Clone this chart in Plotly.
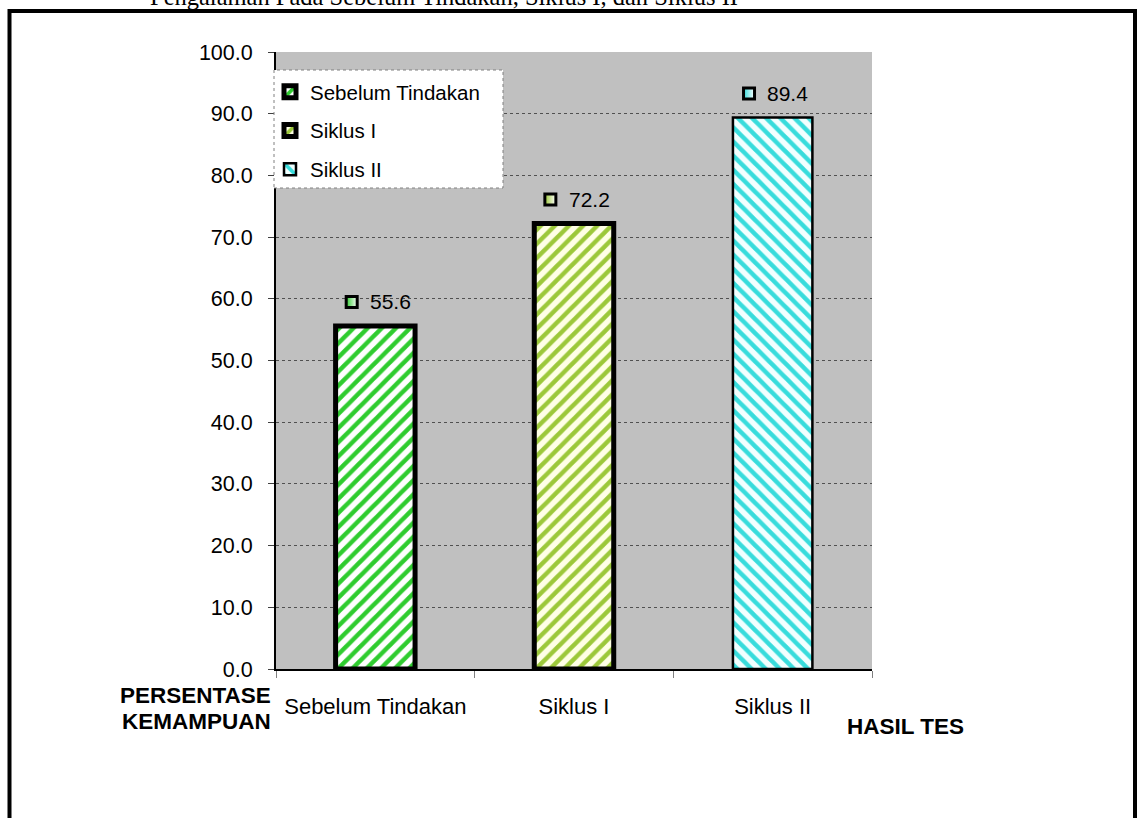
import plotly.graph_objects as go

# ---- data ----
categories = ["Sebelum Tindakan", "Siklus I", "Siklus II"]
values = [55.6, 72.2, 89.4]
series_names = ["Sebelum Tindakan", "Siklus I", "Siklus II"]
y_ticks = [0, 10, 20, 30, 40, 50, 60, 70, 80, 90, 100]
title_text = "Pengalaman Pada Sebelum Tindakan, Siklus I, dan Siklus II"
y_title_lines = ["PERSENTASE", "KEMAMPUAN"]
x_title = "HASIL TES"

# ---- styles ----
stripe_colors = ["#2FCC2F", "#9CC83A", "#38DCDC"]
stripe_bg = ["#FFFFFF", "#FFFFE6", "#F2FFFF"]
stripe_shapes = ["/", "/", "\\"]
outline_widths = [5, 5, 2.5]
FONT = "Liberation Sans, Arial, sans-serif"

L, R, T, B = 276, 265, 52, 149
W, H = 1137, 818
plot_h = H - T - B
plot_w = W - L - R

def px_to_paper_y(p):
    return (H - B - p) / plot_h

def px_to_paper_x(p):
    return (p - L) / plot_w

positions = list(range(len(categories)))

fig = go.Figure()

for i, (name, v) in enumerate(zip(series_names, values)):
    fig.add_trace(go.Bar(
        x=[positions[i]], y=[v], width=0.4, name=name,
        legendgroup=name,
        marker=dict(
            color=stripe_colors[i],
            line=dict(color="black", width=outline_widths[i]),
            pattern=dict(shape=stripe_shapes[i], fgcolor=stripe_colors[i],
                         bgcolor=stripe_bg[i], size=10, solidity=0.45,
                         fillmode="replace"),
        ),
        hoverinfo="skip",
    ))

# data label keys (small squares) and value texts
units_per_px = 100 / plot_h
for i, v in enumerate(values):
    fig.add_trace(go.Scatter(
        x=[positions[i] - 0.119], y=[v + 24 * units_per_px], mode="markers",
        marker=dict(symbol="square", size=11, color=stripe_colors[i],
                    gradient=dict(type="horizontal", color="white"),
                    line=dict(color="black", width=3)),
        showlegend=False, hoverinfo="skip",
    ))
    fig.add_annotation(x=positions[i], y=v, text=f"{v:.1f}", showarrow=False,
                       xshift=15, yshift=24, font=dict(family=FONT, size=21, color="black"))

# legend box
fig.add_shape(type="rect", xref="paper", yref="paper",
              x0=px_to_paper_x(274), x1=px_to_paper_x(503),
              y0=px_to_paper_y(188), y1=px_to_paper_y(70),
              fillcolor="white", line=dict(color="#808080", width=1, dash="dot"),
              layer="above")

# outer frame
fig.add_shape(type="rect", xref="paper", yref="paper",
              x0=px_to_paper_x(9.5), x1=px_to_paper_x(1135),
              y0=px_to_paper_y(1000), y1=px_to_paper_y(11),
              line=dict(color="black", width=4), fillcolor="rgba(0,0,0,0)",
              layer="above")

# title (cropped at top, as in the reference)
fig.add_annotation(xref="paper", yref="paper", x=px_to_paper_x(444), y=px_to_paper_y(-4),
                   text=title_text, showarrow=False, xanchor="center", yanchor="middle",
                   font=dict(family="Liberation Serif, Times New Roman, serif", size=24.5, color="black"))

# axis titles
for line_text, py in zip(y_title_lines, [695, 721]):
    fig.add_annotation(xref="paper", yref="paper", x=px_to_paper_x(273), y=px_to_paper_y(py),
                       text=line_text, showarrow=False, xanchor="right", yanchor="middle",
                       font=dict(family=FONT, size=22.5, color="black", weight="bold"))
fig.add_annotation(xref="paper", yref="paper", x=px_to_paper_x(905), y=px_to_paper_y(726),
                   text=x_title, showarrow=False, xanchor="center", yanchor="middle",
                   font=dict(family=FONT, size=22.5, color="black", weight="bold"))

fig.update_layout(
    width=W, height=H,
    margin=dict(l=L, r=R, t=T, b=B),
    paper_bgcolor="white", plot_bgcolor="#C0C0C0",
    barmode="overlay",
    font=dict(family=FONT, size=20, color="black"),
    showlegend=True,
    legend=dict(x=px_to_paper_x(270), y=px_to_paper_y(72), xanchor="left", yanchor="top",
                bgcolor="rgba(0,0,0,0)", borderwidth=0,
                font=dict(family=FONT, size=20.5, color="black"),
                traceorder="grouped", tracegroupgap=9, itemwidth=30),
    hovermode=False,
)

fig.update_xaxes(
    range=[-0.5, 2.5], tickmode="array", tickvals=positions, ticktext=categories,
    ticks="", showgrid=False, zeroline=False,
    showline=True, linecolor="black", linewidth=2,
    ticklabelstandoff=17,
    tickfont=dict(family=FONT, size=22, color="black"),
    minor=dict(tickmode="array", tickvals=[p - 0.5 for p in positions] + [positions[-1] + 0.5],
               ticks="outside", ticklen=7, tickcolor="#808080", tickwidth=1, showgrid=False),
)
fig.update_yaxes(
    range=[0, 100], tickmode="array", tickvals=y_ticks,
    ticktext=[f"{t:.1f}" for t in y_ticks],
    ticks="outside", ticklen=6, tickcolor="#404040", tickwidth=1,
    showgrid=True, gridcolor="#505050", gridwidth=1, griddash="dot",
    zeroline=False, showline=True, linecolor="black", linewidth=2,
    ticklabelstandoff=11,
    tickfont=dict(family=FONT, size=21.5, color="black"),
)

fig.write_html("out.html")
